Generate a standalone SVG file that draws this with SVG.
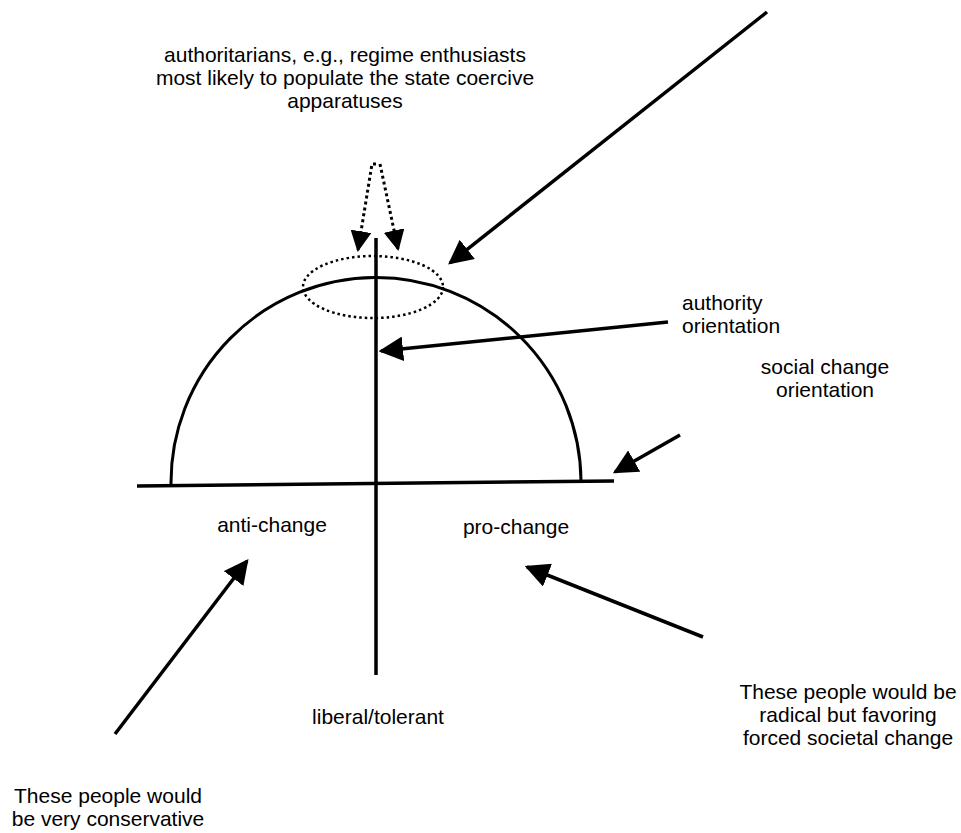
<svg xmlns="http://www.w3.org/2000/svg" width="961" height="833" viewBox="0 0 961 833">
<defs>
<style>
.t{font-family:"Liberation Sans",Arial,sans-serif;font-size:21px;fill:#000;text-anchor:middle}
.l{text-anchor:start}
.ln{stroke:#000;stroke-width:3.5;fill:none}
.ax{stroke:#000;stroke-width:3;fill:none}
.dot{stroke:#000;stroke-width:3;fill:none;stroke-dasharray:3 3}
.dote{stroke:#000;stroke-width:2.5;fill:none;stroke-dasharray:2.5 3}
</style>
<marker id="ahs" viewBox="0 0 10 10" refX="9" refY="5" markerWidth="7" markerHeight="7" orient="auto" markerUnits="strokeWidth">
<path d="M0,0 L10,5 L0,10 Z" fill="#000"/>
</marker>
</defs>
<rect width="961" height="833" fill="#fff"/>
<g id="axes">
<path class="ax" d="M171,484 A205,205 0 0 1 581,481"/>
<line class="ln" x1="137" y1="486" x2="614" y2="481"/>
<line class="ln" x1="376" y1="238" x2="376" y2="675"/>
<ellipse class="dote" cx="373" cy="287" rx="70" ry="31"/>
</g>
<g id="labels">
<text class="t" x="345" y="62">authoritarians, e.g., regime enthusiasts</text>
<text class="t" x="345" y="85">most likely to populate the state coercive</text>
<text class="t" x="345" y="108">apparatuses</text>
<text class="t l" x="682" y="310">authority</text>
<text class="t l" x="682" y="333">orientation</text>
<text class="t" x="825" y="374">social change</text>
<text class="t" x="825" y="397">orientation</text>
<text class="t" x="272" y="532">anti-change</text>
<text class="t" x="516" y="534">pro-change</text>
<text class="t" x="378" y="724">liberal/tolerant</text>
<text class="t" x="848" y="699">These people would be</text>
<text class="t" x="848" y="722">radical but favoring</text>
<text class="t" x="848" y="745">forced societal change</text>
<text class="t" x="108" y="803">These people would</text>
<text class="t" x="108" y="826">be very conservative</text>
</g>
<g id="connectors">
<line class="ln" x1="767" y1="12" x2="450" y2="263" marker-end="url(#ahs)"/>
<line class="ln" x1="668" y1="322" x2="381" y2="351" marker-end="url(#ahs)"/>
<line class="ln" x1="680" y1="435" x2="615" y2="472" marker-end="url(#ahs)"/>
<line class="ln" x1="115" y1="734" x2="247" y2="561" marker-end="url(#ahs)"/>
<line class="ln" x1="703" y1="637" x2="527" y2="567" marker-end="url(#ahs)"/>
<polyline class="dot" points="376,164 372,164 358,250" marker-end="url(#ahs)"/>
<polyline class="dot" points="380,164 398,249" marker-end="url(#ahs)"/>
</g>
</svg>
